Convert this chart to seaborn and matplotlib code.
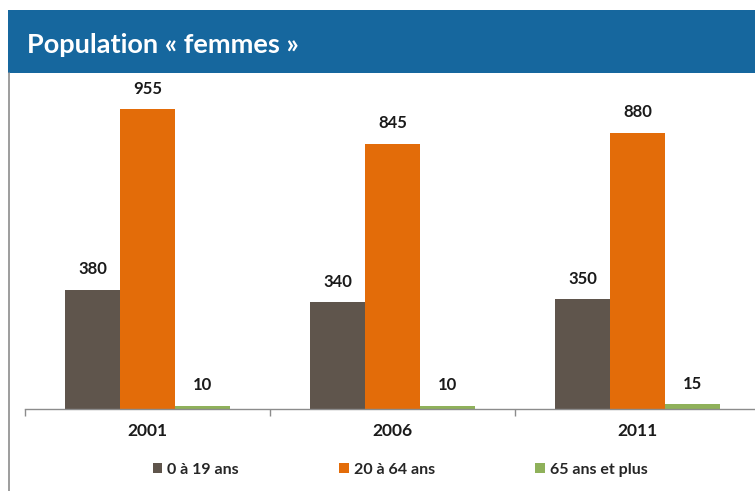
import matplotlib
matplotlib.use("Agg")
import matplotlib.pyplot as plt
import seaborn as sns
import pandas as pd
from matplotlib.patches import Rectangle, Patch
from matplotlib.lines import Line2D

years = ["2001", "2006", "2011"]
groups = ["0 à 19 ans", "20 à 64 ans", "65 ans et plus"]
v_0_19 = [380, 340, 350]
v_20_64 = [955, 845, 880]
v_65 = [10, 10, 15]
colors = ["#5f554c", "#e36c09", "#8fb15a"]

rows = []
for g, vals in zip(groups, [v_0_19, v_20_64, v_65]):
    for y, v in zip(years, vals):
        rows.append({"Année": y, "Groupe": g, "Valeur": v})
df = pd.DataFrame(rows)

sns.set_theme(style="white")
plt.rcParams["font.family"] = ["Lato", "DejaVu Sans"]

W, H = 755, 491
fig = plt.figure(figsize=(W / 100, H / 100), dpi=100)
fig.patch.set_facecolor("white")

# header band
fig.add_artist(Rectangle((8 / W, 1 - 73 / H), 1, 63 / H, transform=fig.transFigure,
                         facecolor="#16679e", edgecolor="none"))
fig.text(27 / W, 1 - 45 / H, "Population « femmes »", color="white", fontsize=19.5,
         fontweight="bold", va="center", ha="left")
# left border line
fig.add_artist(Line2D([8.5 / W, 8.5 / W], [0, 1 - 73 / H], transform=fig.transFigure,
                      color="#8c8c8c", lw=1.2))

ax = fig.add_axes([25 / W, 1 - 409 / H, 735 / W, (409 - 73) / H])
sns.barplot(data=df, x="Année", y="Valeur", hue="Groupe", hue_order=groups,
            palette=colors, width=0.67, saturation=1, ax=ax, legend=False,
            edgecolor="none", linewidth=0)
ax.set_xlim(-0.5, 2.5)
ax.set_ylim(0, 1070)
ax.set_facecolor("none")
for s in ["top", "right", "left"]:
    ax.spines[s].set_visible(False)
ax.spines["bottom"].set_color("#8c8c8c")
ax.spines["bottom"].set_linewidth(1.0)
ax.set_yticks([])
ax.set_xlabel("")
ax.set_ylabel("")
ax.set_xticks([-0.5, 0.5, 1.5, 2.5], minor=True)
ax.tick_params(axis="x", which="minor", length=5, color="#8c8c8c", direction="out", bottom=True)
ax.tick_params(axis="x", which="major", length=0, pad=10, labelsize=12.5)
for lbl in ax.get_xticklabels():
    lbl.set_fontweight("bold")
    lbl.set_color("#1a1a1a")

for cont in ax.containers:
    ax.bar_label(cont, fmt="%d", padding=9, fontsize=12, fontweight="bold", color="#1a1a1a")

handles = [Patch(facecolor=c, edgecolor="none") for c in colors]
fig.legend(handles, groups, loc="center", bbox_to_anchor=(400 / W, 1 - 470 / H), ncol=3,
           frameon=False, prop={"weight": "bold", "size": 11.5}, handlelength=0.6,
           handleheight=0.6, handletextpad=0.3, columnspacing=6.3)

fig.savefig("out.png", dpi=100)
